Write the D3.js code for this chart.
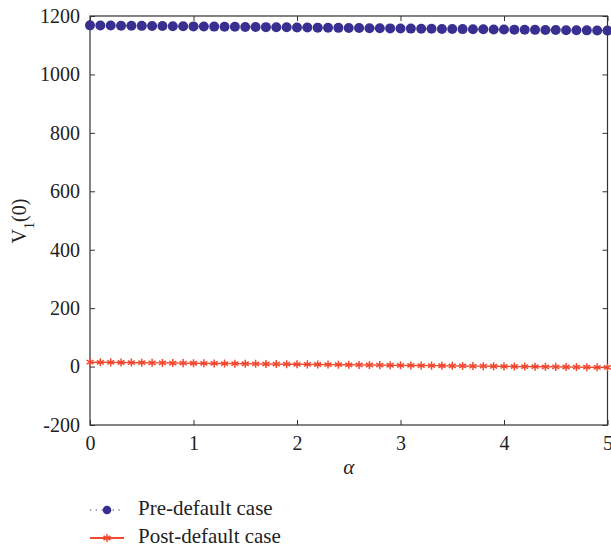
<!DOCTYPE html>
<html>
<head>
<meta charset="utf-8">
<script src="https://cdn.jsdelivr.net/npm/d3@7"></script>
<style>
  body { margin: 0; background: #fff; }
  svg text { font-family: "Liberation Serif", "DejaVu Serif", serif; fill: #222; }
</style>
</head>
<body>
<div id="chart"></div>
<script>
'use strict'

// alpha values, 0 to 5 in steps of 0.1
const alphas = [
  0, 0.1, 0.2, 0.3, 0.4, 0.5, 0.6, 0.7, 0.8, 0.9,
  1, 1.1, 1.2, 1.3, 1.4, 1.5, 1.6, 1.7, 1.8, 1.9,
  2, 2.1, 2.2, 2.3, 2.4, 2.5, 2.6, 2.7, 2.8, 2.9,
  3, 3.1, 3.2, 3.3, 3.4, 3.5, 3.6, 3.7, 3.8, 3.9,
  4, 4.1, 4.2, 4.3, 4.4, 4.5, 4.6, 4.7, 4.8, 4.9, 5
]

const preDefault = [
  1168, 1167.6, 1167.3, 1166.9, 1166.6, 1166.2, 1165.8, 1165.5, 1165.1, 1164.8,
  1164.4, 1164.1, 1163.7, 1163.3, 1163, 1162.6, 1162.3, 1161.9, 1161.5, 1161.2,
  1160.8, 1160.5, 1160.1, 1159.8, 1159.4, 1159, 1158.7, 1158.3, 1158, 1157.6,
  1157.2, 1156.9, 1156.5, 1156.2, 1155.8, 1155.5, 1155.1, 1154.7, 1154.4, 1154,
  1153.7, 1153.3, 1152.9, 1152.6, 1152.2, 1151.9, 1151.5, 1151.2, 1150.8, 1150.4, 1150
]

const postDefault = [
  15, 14.6, 14.3, 13.9, 13.6, 13.2, 12.8, 12.5, 12.1, 11.8,
  11.4, 11.1, 10.7, 10.3, 10, 9.6, 9.3, 8.9, 8.5, 8.2,
  7.8, 7.5, 7.1, 6.8, 6.4, 6, 5.7, 5.3, 5, 4.6,
  4.2, 3.9, 3.5, 3.2, 2.8, 2.5, 2.1, 1.7, 1.4, 1,
  0.7, 0.3, -0.1, -0.4, -0.8, -1.1, -1.5, -1.8, -2.2, -2.6, -3
]

const xTicks = [0, 1, 2, 3, 4, 5]
const yTicks = [-200, 0, 200, 400, 600, 800, 1000, 1200]
const seriesNames = ['Pre-default case', 'Post-default case']

const blue = '#382f91'
const red = '#f2482f'
const axisColor = '#333'
const serif = '"Liberation Serif", "DejaVu Serif", serif'

const W = 611, H = 550
const margin = {left: 90, right: 3.5, top: 16, bottom: 125}
const iw = W - margin.left - margin.right
const ih = H - margin.top - margin.bottom

const svg = d3.select('#chart').append('svg')
  .attr('width', W)
  .attr('height', H)
  .attr('font-family', serif)

const x = d3.scaleLinear().domain([0, 5]).range([0, iw])
const y = d3.scaleLinear().domain([-200, 1200]).range([ih, 0])

const g = svg.append('g').attr('transform', `translate(${margin.left},${margin.top})`)

// frame with inward ticks on all sides (matlab style)
const tk = 5
g.append('rect')
  .attr('x', 0).attr('y', 0)
  .attr('width', x(5)).attr('height', ih)
  .attr('fill', 'none').attr('stroke', axisColor).attr('stroke-width', 1.2)

const fmt = d => String(d)
const bottomAxis = d3.axisBottom(x).tickValues(xTicks).tickSize(-tk).tickPadding(11).tickFormat(fmt)
const leftAxis = d3.axisLeft(y).tickValues(yTicks).tickSize(-tk).tickPadding(10).tickFormat(fmt)

const gx = g.append('g').attr('transform', `translate(0,${ih})`).call(bottomAxis)
const gy = g.append('g').call(leftAxis)
const gxt = g.append('g').call(d3.axisTop(x).tickValues(xTicks).tickSize(-tk).tickFormat(''))
const gyr = g.append('g').attr('transform', `translate(${x(5)},0)`)
  .call(d3.axisRight(y).tickValues(yTicks).tickSize(-tk).tickFormat(''))

;[gx, gy, gxt, gyr].forEach(a => {
  a.attr('font-family', serif)
  a.select('.domain').remove()
  a.selectAll('line').attr('stroke', axisColor).attr('stroke-width', 1)
  a.selectAll('text').attr('font-size', 20).attr('fill', '#222')
})

// axis titles
g.append('text')
  .attr('x', x(2.5)).attr('y', ih + 49)
  .attr('text-anchor', 'middle')
  .attr('font-size', 21).attr('font-style', 'italic')
  .text('α')

const yl = svg.append('text')
  .attr('transform', `translate(26,221) rotate(-90)`)
  .attr('text-anchor', 'middle')
  .attr('font-size', 20)
yl.append('tspan').text('V')
yl.append('tspan').attr('baseline-shift', 'sub').attr('font-size', 14).text('1')
yl.append('tspan').text('(0)')

const line = d3.line().x((d, i) => x(alphas[i])).y(d => y(d))

// pre-default series: dotted line with filled circles
g.append('path').datum(preDefault)
  .attr('d', line).attr('fill', 'none')
  .attr('stroke', blue).attr('stroke-width', 1).attr('stroke-dasharray', '1,3')
g.selectAll('.dot').data(preDefault).enter().append('circle')
  .attr('class', 'dot')
  .attr('cx', (d, i) => x(alphas[i])).attr('cy', d => y(d))
  .attr('r', 5).attr('fill', blue)

// post-default series: solid line with asterisks
g.append('path').datum(postDefault)
  .attr('d', line).attr('fill', 'none')
  .attr('stroke', red).attr('stroke-width', 1.4)

const star = d3.symbol().type(d3.symbolAsterisk).size(45)
g.selectAll('.star').data(postDefault).enter().append('path')
  .attr('class', 'star')
  .attr('transform', (d, i) => `translate(${x(alphas[i])},${y(d)})`)
  .attr('d', star).attr('fill', 'none')
  .attr('stroke', red).attr('stroke-width', 1.5)

// legend
const lg = svg.append('g').attr('transform', 'translate(90,510)')
const row1 = lg.append('g')
row1.append('line').attr('x1', 0).attr('x2', 34).attr('y1', 0).attr('y2', 0)
  .attr('stroke', blue).attr('stroke-width', 1.2).attr('stroke-dasharray', '1.2,4.5')
row1.append('circle').attr('cx', 17).attr('cy', 0).attr('r', 4.3).attr('fill', blue)
row1.append('text').attr('x', 48).attr('y', 5).attr('font-size', 21).text(seriesNames[0])

const row2 = lg.append('g').attr('transform', 'translate(0,28)')
row2.append('line').attr('x1', 0).attr('x2', 34).attr('y1', 0).attr('y2', 0)
  .attr('stroke', red).attr('stroke-width', 1.8)
row2.append('path').attr('transform', 'translate(17,0)')
  .attr('d', star).attr('fill', 'none').attr('stroke', red).attr('stroke-width', 1.5)
row2.append('text').attr('x', 48).attr('y', 5).attr('font-size', 21).text(seriesNames[1])
</script>
</body>
</html>
